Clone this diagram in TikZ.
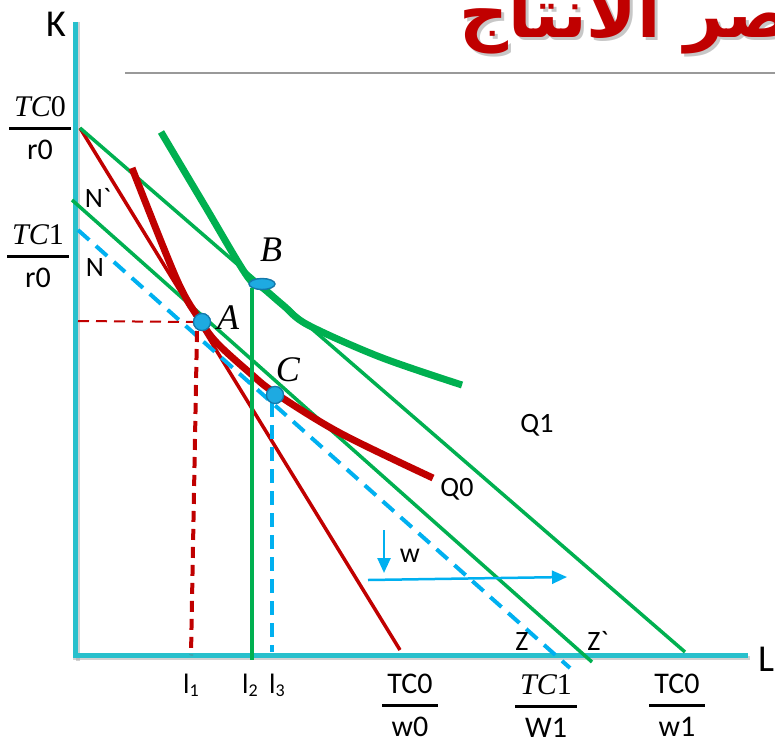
\documentclass[tikz,border=0pt]{standalone}
\usepackage{fontspec}
\setmainfont{Carlito}
\newfontfamily\serf{Liberation Serif}
\newfontfamily\arabicfont[Script=Arabic]{DejaVu Sans}
\TeXXeTstate=1
\usetikzlibrary{arrows.meta,shapes.geometric}
\definecolor{axc}{RGB}{40,192,204}
\definecolor{rd}{RGB}{192,0,0}
\definecolor{gr}{RGB}{0,176,80}
\definecolor{bl}{RGB}{0,176,240}
\definecolor{ptf}{RGB}{30,170,225}
\definecolor{ptd}{RGB}{20,120,170}
\newcommand\frc[2]{{\setlength\arrayrulewidth{2.5pt}\renewcommand\arraystretch{1.0}\begin{tabular}{@{\,}c@{\,}}#1\\[1pt]\hline\rule{0pt}{1.0em}#2\end{tabular}}}
\newcommand\mi[1]{{\serf\itshape\fontsize{30}{30}\selectfont #1}}
\newcommand\mz[1]{{\serf\fontsize{30}{30}\selectfont #1}}
\newcommand\sub[1]{{\fontsize{18}{18}\selectfont\raisebox{-3pt}{#1}}}
\newcommand\grv{\textasciigrave}
\begin{document}
\begin{tikzpicture}[x=1pt,y=-1pt,
  axis/.style={draw=axc,line width=5pt},
  shadow/.style={draw=black!35,line width=4pt,opacity=0.5},
  redln/.style={draw=rd,line width=3.5pt},
  grnln/.style={draw=gr,line width=3.5pt},
  bludash/.style={draw=bl,line width=4pt,dash pattern=on 15pt off 9pt},
  reddash/.style={draw=rd,dash pattern=on 11pt off 7pt},
  isoq/.style={line width=7pt,line cap=butt},
  pt/.style={circle,fill=ptf,draw=ptd,line width=1.2pt,minimum size=17pt,inner sep=0pt},
  lbl/.style={font=\fontsize{28}{30}\selectfont,inner sep=0pt},
  frl/.style={font=\fontsize{30}{32}\selectfont,inner sep=0pt},
  ptl/.style={font=\serf\itshape\fontsize{36}{38}\selectfont,inner sep=0pt},
  ttl/.style={anchor=base west,font=\arabicfont\bfseries\fontsize{68}{70}\selectfont,inner sep=0pt},
  barrow/.style={draw=bl,line width=2.5pt,-{Triangle[length=15pt,width=13pt]}}
]
\useasboundingbox (0,0) rectangle (775,749);

% title
\node[ttl,text=black!22] (titleshadow) at (462,41) {\beginR عناصر الانتاج\endR};
\node[ttl,text=rd] (title) at (459,38) {\beginR عناصر الانتاج\endR};
\coordinate (gl0) at (125,73);
\coordinate (gl1) at (775,73);
\draw[draw=black!40,line width=1.5pt] (gl0) -- (gl1);

% axes
\coordinate (Ktop) at (75,22);
\coordinate (Kbot) at (75,658);
\coordinate (Lbeg) at (73,655);
\coordinate (Lend) at (748,655);
\draw[shadow] ([shift={(3,0)}]Ktop) -- ([shift={(3,3)}]Kbot);
\draw[shadow] ([shift={(0,3)}]Lbeg) -- ([shift={(2,3)}]Lend);
\draw[axis] (Ktop) -- (Kbot);
\draw[axis] (Lbeg) -- (Lend);
\node[font=\fontsize{38}{40}\selectfont,inner sep=0pt] (K) at (56,24) {K};
\node[font=\fontsize{38}{40}\selectfont,inner sep=0pt] (L) at (766,659) {L};

% budget lines
\coordinate (P0) at (80,128);
\coordinate (R0) at (400,650);
\coordinate (G1) at (685,652);
\coordinate (Nn) at (72,200);
\coordinate (Zp) at (592,662);
\coordinate (Nb) at (78,230);
\coordinate (Zb) at (570,668);
\draw[redln] (P0) -- (R0);
\draw[grnln] (P0) -- (G1);
\draw[grnln] (Nn) -- (Zp);
\draw[bludash] (Nb) -- (Zb);

% isoquants
\draw[isoq,draw=gr] plot[smooth,tension=0.55] coordinates {(161,132) (205,206) (247,276) (263,288) (284,306) (308,325) (380,357) (462,385)};
\draw[isoq,draw=rd] plot[smooth,tension=0.55] coordinates {(132,168) (177,280) (200,320) (217,343) (250,373) (275,393) (340,433) (433,478)};

% points
\node[pt] (A) at (202,322) {};
\node[ellipse,fill=ptf,draw=ptd,line width=1.4pt,minimum width=26pt,minimum height=11pt,inner sep=0pt] (B) at (262,284) {};
\node[pt] (C) at (275,395) {};

% drop lines
\coordinate (Ah) at (78,321);
\coordinate (Av) at (197,331);
\coordinate (l1b) at (191,655);
\coordinate (l2b) at (252,660);
\coordinate (l3t) at (272,403);
\coordinate (l3b) at (272,652);
\draw[reddash,line width=2pt] (Ah) -- (A.west);
\draw[reddash,line width=4pt] (Av) -- (l1b);
\draw[grnln] (B.south west -| l2b) -- (l2b);
\draw[bludash,line width=3.5pt,dash pattern=on 14pt off 8pt] (l3t) -- (l3b);

% redraw points on top
\node[pt] at (A) {};
\node[pt] at (C) {};

% point labels
\node[ptl] (Alab) at (228,318) {A};
\node[ptl] (Blab) at (271,250) {B};
\node[ptl] (Clab) at (288,370) {C};

% curve labels
\node[lbl] (Q0) at (457,489) {Q0};
\node[lbl] (Q1) at (537,425) {Q1};
\node[lbl] (Nq) at (98,198) {N\grv};
\node[lbl] (N) at (95,268) {N};
\node[lbl] (Z) at (522,642) {Z};
\node[lbl] (Zq) at (598,641) {Z\grv};
\node[lbl] (w) at (410,556) {w};

% arrows
\coordinate (wa0) at (384,530);
\coordinate (wa1) at (384,573);
\coordinate (ra0) at (368,580);
\coordinate (ra1) at (567,577);
\draw[barrow] (wa0) -- (wa1);
\draw[barrow] (ra0) -- (ra1);

% axis labels
\node[lbl] (l1) at (191,685) {l\sub{1}};
\node[lbl] (l2) at (250,685) {l\sub{2}};
\node[lbl] (l3) at (277,685) {l\sub{3}};
\node[frl] (f1) at (410,709) {\frc{TC0}{w0}};
\node[frl] (f2) at (546,710) {\frc{\mi{TC}\mz{1}}{W1}};
\node[frl] (f3) at (677,709) {\frc{TC0}{w1}};
\node[frl] (f4) at (40,132) {\frc{\mi{TC}\mz{0}}{r0}};
\node[frl] (f5) at (38,260) {\frc{\mi{TC}\mz{1}}{r0}};
\end{tikzpicture}
\end{document}
